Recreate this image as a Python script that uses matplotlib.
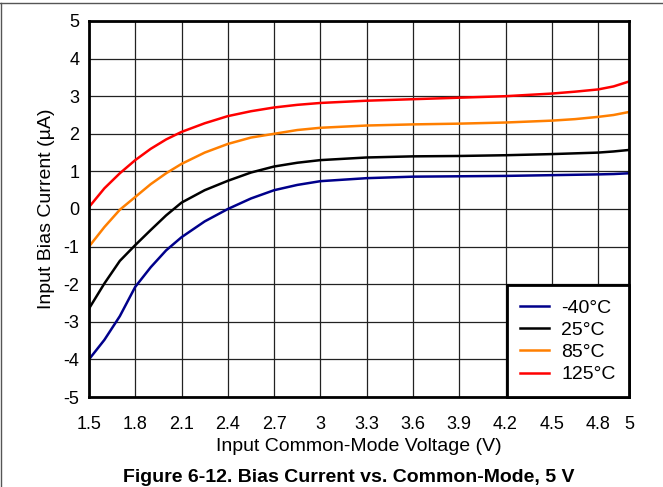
import matplotlib.pyplot as plt
from matplotlib.lines import Line2D

plt.rcParams['font.family'] = ['Liberation Sans', 'DejaVu Sans']
plt.rcParams['axes.unicode_minus'] = False

# Common-mode voltage (V)
vcm = [1.5, 1.6, 1.7, 1.8, 1.9, 2.0, 2.1, 2.25, 2.4, 2.55, 2.7, 2.85, 3.0,
       3.3, 3.6, 3.9, 4.2, 4.5, 4.65, 4.8, 4.9, 5.0]

# Input bias current (uA) per temperature
ib_m40 = [-4.0, -3.48, -2.85, -2.07, -1.55, -1.1, -0.75, -0.33, 0.0, 0.28, 0.5,
          0.64, 0.74, 0.82, 0.86, 0.87, 0.88, 0.9, 0.91, 0.92, 0.93, 0.95]
ib_25 = [-2.65, -1.98, -1.38, -0.96, -0.56, -0.17, 0.17, 0.5, 0.75, 0.97, 1.13,
         1.23, 1.3, 1.37, 1.4, 1.41, 1.43, 1.46, 1.48, 1.5, 1.53, 1.57]
ib_85 = [-1.0, -0.48, -0.02, 0.32, 0.66, 0.95, 1.2, 1.5, 1.73, 1.9, 2.0,
         2.1, 2.16, 2.22, 2.25, 2.27, 2.3, 2.35, 2.39, 2.45, 2.5, 2.58]
ib_125 = [0.05, 0.55, 0.95, 1.3, 1.6, 1.85, 2.05, 2.28, 2.47, 2.6, 2.7,
          2.77, 2.82, 2.88, 2.92, 2.96, 3.0, 3.07, 3.12, 3.18, 3.26, 3.39]

series = [(ib_m40, '#00008B', '-40°C'),
          (ib_25, 'black', '25°C'),
          (ib_85, '#FF7F00', '85°C'),
          (ib_125, '#FF0000', '125°C')]

xticks = [1.5, 1.8, 2.1, 2.4, 2.7, 3.0, 3.3, 3.6, 3.9, 4.2, 4.5, 4.8, 5.0]
xlabels = ['1.5', '1.8', '2.1', '2.4', '2.7', '3', '3.3', '3.6', '3.9',
           '4.2', '4.5', '4.8', '5']
yticks = list(range(-5, 6))

fig = plt.figure(figsize=(6.63, 4.87), dpi=100)
ax = fig.add_axes([0.1342, 0.1848, 0.8145, 0.7721])

for ib, col, lab in series:
    ax.plot(vcm, ib, color=col, lw=1.8, label=lab)

ax.set_xlim(1.5, 5.0)
ax.set_ylim(-5, 5)
ax.set_xticks(xticks)
ax.set_xticklabels(xlabels)
ax.set_yticks(yticks)
ax.tick_params(labelsize=13, length=0)
ax.tick_params(axis='x', pad=13.5)
ax.tick_params(axis='y', pad=7)
ax.grid(True, color='#222222', lw=0.9)
for s in ax.spines.values():
    s.set_linewidth(2.0)

ax.set_xlabel('Input Common-Mode Voltage (V)', fontsize=14, labelpad=4)
ax.set_ylabel('Input Bias Current (µA)', fontsize=14, labelpad=6)

leg = ax.legend(loc='lower right', fontsize=14, fancybox=False, framealpha=1,
                edgecolor='black', borderaxespad=0, handlelength=1.5,
                labelspacing=0.24, borderpad=0.7, handletextpad=0.6)
leg.get_frame().set_linewidth(2.0)

fig.text(0.526, 0.02, 'Figure 6-12. Bias Current vs. Common-Mode, 5 V',
         ha='center', va='center', fontsize=14, fontweight='bold')

# page frame lines
fig.add_artist(Line2D([0, 1], [0.994, 0.994], transform=fig.transFigure,
                      color='#555555', lw=1))
fig.add_artist(Line2D([0.001, 0.001], [0, 0.994], transform=fig.transFigure,
                      color='#555555', lw=1))

fig.savefig('out.png', dpi=100)
